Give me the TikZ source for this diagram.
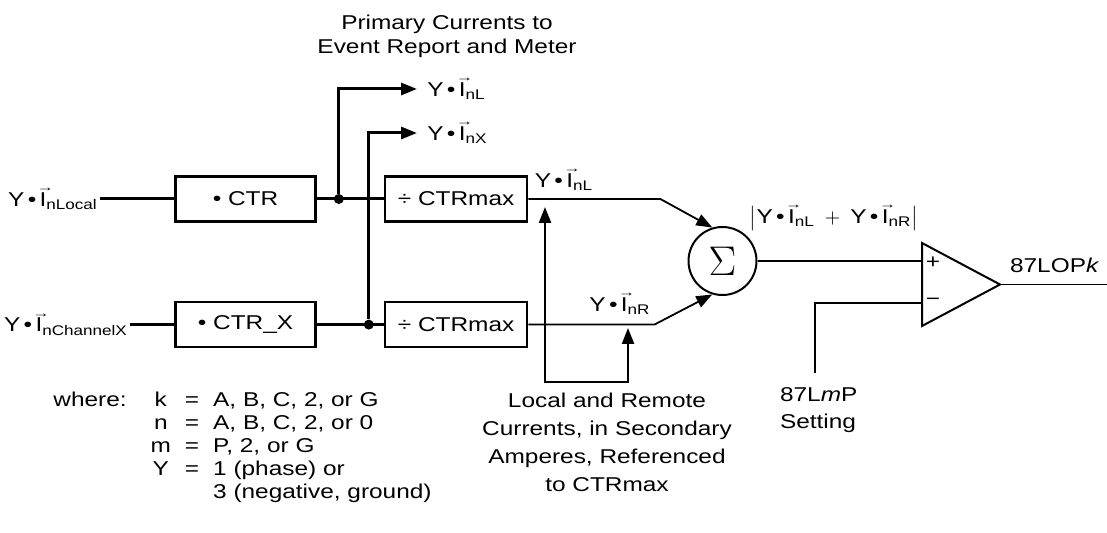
\documentclass[tikz,border=0pt]{standalone}
\usepackage{fontspec}
\setmainfont{Liberation Sans}[FakeStretch=1.22]
\usepackage{graphicx}
\usetikzlibrary{arrows.meta, positioning, calc}

% current phasor: I with a small arrow over it
\newcommand{\vI}{\leavevmode\rlap{\kern-0.14em\raisebox{0.72em}{\scalebox{0.7}[0.6]{→}}}I}
\newcommand{\YI}[1]{Y\,•\,\vI\textsubscript{#1}}

\begin{document}
\begin{tikzpicture}[
  x=0.5pt, y=-0.5pt,
  font=\fontsize{10}{12}\selectfont,
  blk/.style={draw, line width=1.3pt, minimum width=70pt, minimum height=22.5pt, inner sep=0pt},
  wire/.style={line width=1.5pt},
  sig/.style={line width=0.9pt},
  arr/.style={-{Triangle[length=8pt, width=6pt]}},
  jdot/.style={circle, fill, inner sep=0pt, minimum size=5pt},
  lbl/.style={inner sep=1pt},
  outlbl/.style={anchor=west, inner xsep=5pt, inner ysep=1pt},
]
\useasboundingbox (0,0) rectangle (1107,533);

% CT ratio blocks and inputs
\node[blk] (ctr) at (245.5,199) {• CTR};
\node[blk, below=39pt of ctr] (ctrx) {• CTR\_X};
\node[lbl, left=37pt of ctr] (inL) {\YI{nLocal}};
\node[lbl, left=22pt of ctrx] (inX) {\YI{nChannelX}};

% Normalising blocks
\node[blk, minimum width=71pt, right=33.5pt of ctr] (dv1) {÷ CTRmax};
\node[blk, minimum width=71pt, right=33.5pt of ctrx] (dv2) {÷ CTRmax};

% Junctions and primary current outputs
\node[jdot] (j1) at ([xshift=11pt]ctr.east) {};
\node[jdot] (j2) at ([xshift=26pt]ctrx.east) {};
\node[outlbl] (oL) at (417,89) {\YI{nL}};
\node[outlbl] (oX) at (417,133) {\YI{nX}};
\node[align=center] (hdr) at (447,36) {Primary Currents to\\Event Report and Meter};

\draw[wire] (inL) -- (ctr);
\draw[wire] (inX) -- (ctrx);
\draw[wire] (ctr) -- (dv1);
\draw[wire] (ctrx) -- (dv2);
\draw[wire, arr] (j1) |- (oL);
\draw[wire, arr] (j2) |- (oX);

% Summing junction
\node[draw, circle, line width=1pt, minimum size=34pt, inner sep=0pt] (sum) at (722.5,261)
  {\fontsize{21}{21}\selectfont$\Sigma$};
\node (sL) at (564,180) {\YI{nL}};
\node (sR) at (620,304) {\YI{nR}};
\draw[sig, arr] (dv1.east) -- ++(132,0) -- (sum.107);
\draw[sig, arr] (dv2.east) -- ++(126,0) -- (sum.253);

% Local and remote currents
\coordinate (tipA) at (545,207);
\coordinate (tipB) at (628,328);
\coordinate (lrL) at (545,382);
\coordinate (lrR) at (628,382);
\draw[line width=1.2pt, {Triangle[length=8pt, width=6pt]}-{Triangle[length=8pt, width=6pt]}]
  (tipA) -- (lrL) -- (lrR) -- (tipB);
\node[anchor=north, align=center, font=\fontsize{10}{14}\selectfont] (lrtxt) at (607,386)
  {Local and Remote\\Currents, in Secondary\\Amperes, Referenced\\to CTRmax};

% Comparator
\coordinate (cmpA) at (922,243);
\coordinate (cmpB) at (922,326);
\coordinate (cmpO) at (1000,284.5);
\coordinate (cmpP) at (sum.east -| cmpA);
\coordinate (cmpM) at (922,303);
\coordinate (outE) at (1107,284.5);
\coordinate (setP) at (815,373);
\draw[line width=1pt] (cmpA) -- (cmpO) -- (cmpB) -- cycle;
\node (plus) at (933,263) {+};
\node (minus) at (933,302) {−};
\node (absl) at (834,218) {$\left|\mbox{\YI{nL}}\;+\;\mbox{\YI{nR}}\right|$};
\draw[sig] (sum) -- (cmpP);
\draw[sig] (cmpO) -- (outE);
\draw[sig] (setP) |- (cmpM);
\node[anchor=south west] (opk) at (1003,280) {87LOP\textit{k}};
\node[anchor=north west, align=left, font=\fontsize{10}{13.5}\selectfont] (setlbl) at (773,380)
  {87L\textit{m}P\\Setting};

% Legend
\node[anchor=north west, inner sep=0pt, font=\fontsize{10}{11.5}\selectfont] (where) at (53,390) {%
  \begin{tabular}{@{}l@{\hspace{12pt}}c@{\hspace{7pt}}c@{\hspace{7pt}}l@{}}
  where: & k & = & A, B, C, 2, or G\\
         & n & = & A, B, C, 2, or 0\\
         & m & = & P, 2, or G\\
         & Y & = & 1 (phase) or\\
         &   &   & 3 (negative, ground)
  \end{tabular}};
\end{tikzpicture}
\end{document}
